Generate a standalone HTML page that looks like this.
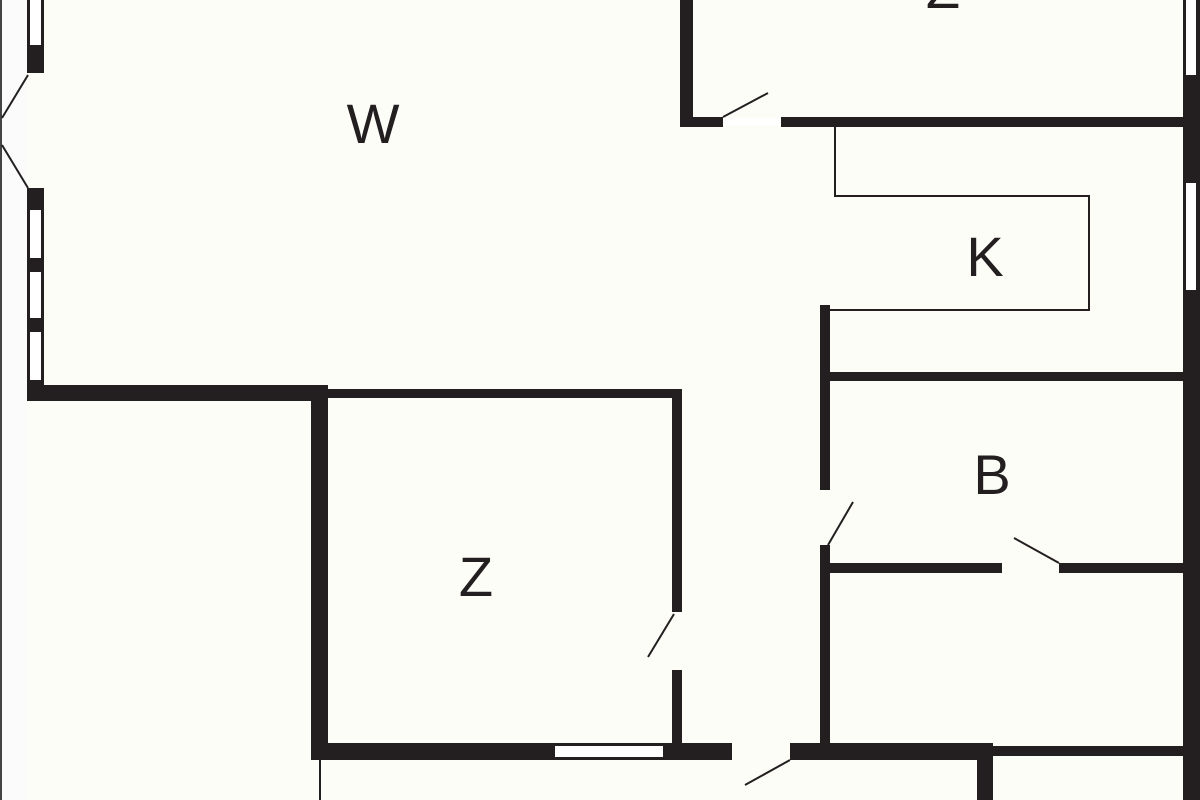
<!DOCTYPE html>
<html><head><style>
html,body{margin:0;padding:0;background:#fdfdf8;}
svg{display:block}
text{font-family:"Liberation Sans",sans-serif;font-size:56px;fill:#231f20;text-anchor:middle}
</style></head><body>
<svg width="1200" height="800" viewBox="0 0 1200 800" xmlns="http://www.w3.org/2000/svg">
<rect width="1200" height="800" fill="#fdfdf8"/>
<rect x="0" y="0" width="2" height="800" fill="#444"/>
<rect x="2" y="0" width="25" height="800" fill="#fafbfa"/>
<g fill="#231f20">
<!-- left wall -->
<rect x="27" y="0" width="17" height="73"/>
<rect x="27" y="188" width="17" height="212"/>
<rect x="27" y="385" width="301" height="16"/>
<!-- Z room -->
<rect x="311" y="385" width="17" height="375"/>
<rect x="318" y="389" width="364" height="9"/>
<rect x="672" y="389" width="10" height="223"/>
<rect x="672" y="670" width="10" height="75"/>
<rect x="311" y="743" width="421" height="17"/>
<rect x="790" y="743" width="203" height="17"/>
<rect x="993" y="746" width="192" height="10"/>
<rect x="977" y="755" width="16" height="45"/>
<!-- right outer wall -->
<rect x="1183" y="0" width="17" height="800"/>
<!-- top right room -->
<rect x="680" y="0" width="13" height="127"/>
<rect x="680" y="117" width="43" height="10"/>
<rect x="781" y="117" width="402" height="10"/>
<!-- corridor wall -->
<rect x="820" y="305" width="10" height="185"/>
<rect x="820" y="545" width="10" height="200"/>
<!-- B walls -->
<rect x="830" y="372" width="353" height="9"/>
<rect x="830" y="563" width="172" height="10"/>
<rect x="1059" y="563" width="124" height="10"/>
</g>
<g fill="#fff">
<rect x="30" y="0" width="11" height="45"/>
<rect x="30" y="210" width="11" height="48"/>
<rect x="30" y="272" width="11" height="46"/>
<rect x="30" y="332" width="11" height="48"/>
<rect x="555" y="746" width="108" height="11"/>
<rect x="1186" y="0" width="10" height="75"/>
<rect x="1186" y="183" width="10" height="107"/>
<rect x="723" y="118" width="58" height="8"/>
</g>
<g stroke="#231f20" stroke-width="2" fill="none">
<line x1="28" y1="75" x2="2" y2="118"/>
<line x1="2" y1="145" x2="28" y2="188"/>
<line x1="723" y1="117" x2="768" y2="93"/>
<polyline points="835,127 835,196 1089,196 1089,310 830,310"/>
<line x1="828" y1="545" x2="853" y2="502"/>
<line x1="1059" y1="563" x2="1014" y2="538"/>
<line x1="674" y1="614" x2="648" y2="657"/>
<line x1="790" y1="760" x2="745" y2="785"/>
<line x1="320" y1="760" x2="320" y2="800"/>
</g>
<text x="373" y="143">W</text>
<text x="943" y="8">Z</text>
<text x="985" y="276">K</text>
<text x="992" y="494">B</text>
<text x="476" y="596">Z</text>
</svg>
</body></html>
